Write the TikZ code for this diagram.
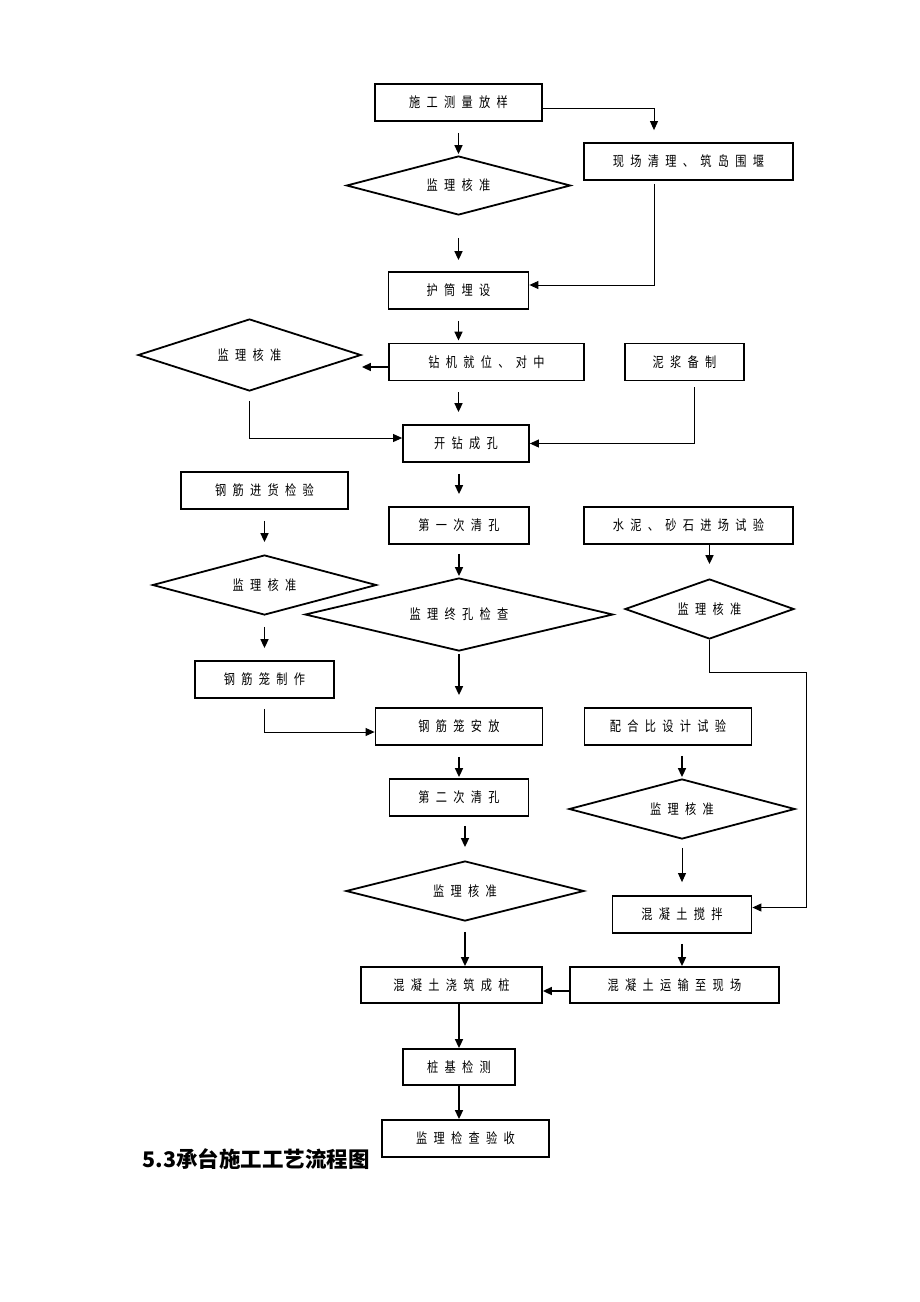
\documentclass[tikz,border=0pt]{standalone}
\usepackage{fontspec}
\newfontfamily\cjk[FakeStretch=0.8,LetterSpace=45]{Noto Sans CJK SC}
\newfontfamily\cjktitle{Noto Sans CJK SC}
\usepackage{tikz}
\usetikzlibrary{shapes,arrows,positioning,calc,arrows.meta}

\begin{document}
\begin{tikzpicture}[x=1pt, y=-1pt, >={Triangle[length=9pt,width=8pt]},
    box/.style={draw, line width=1.8pt, minimum height=37pt, inner sep=0pt, font=\cjk\fontsize{14}{14}\selectfont},
    check/.style={draw, diamond, aspect=3, line width=1.8pt, inner sep=0pt, font=\cjk\fontsize{14}{14}\selectfont},
    flow/.style={->, line width=1.6pt},
    link/.style={->, line width=0.9pt}]
    \useasboundingbox (0,0) rectangle (920,1302);

    \node [box, minimum width=167pt] (survey) at (458.5,102.5) {施工测量放样};
    \node [box, minimum width=209pt] (clear) at (688.5,161.5) {现场清理、筑岛围堰};
    \node [check, minimum width=224pt, minimum height=59pt, below of=survey, node distance=83pt] (chk1) {监理核准};
    \node [box, minimum width=140pt, below of=chk1, node distance=105pt] (casing) {护筒埋设};
    \node [box, minimum width=195pt] (rig) at (486.5,362) {钻机就位、对中};
    \node [check, minimum width=223pt, minimum height=72pt] (chk2) at (249.5,355) {监理核准};
    \node [box, minimum width=119pt, right of=rig, node distance=198pt] (mud) {泥浆备制};
    \node [box, minimum width=126pt] (drill) at (466,443.5) {开钻成孔};
    \node [box, minimum width=167pt] (rebar) at (264.5,490.5) {钢筋进货检验};
    \node [box, minimum width=140pt] (clean1) at (459,525.5) {第一次清孔};
    \node [box, minimum width=209pt, right of=clean1, node distance=229.5pt] (cement) {水泥、砂石进场试验};
    \node [check, minimum width=224pt, minimum height=60pt, below of=rebar, node distance=94.5pt] (chk3) {监理核准};
    \node [check, minimum width=308pt, minimum height=73pt, below of=clean1, node distance=89pt] (final) {监理终孔检查};
    \node [check, minimum width=169pt, minimum height=60pt] (chk4) at (709.5,609) {监理核准};
    \node [box, minimum width=139pt, below of=chk3, node distance=94.5pt] (cage) {钢筋笼制作};
    \node [box, minimum width=167pt, below of=final, node distance=112pt] (place) {钢筋笼安放};
    \node [box, minimum width=167pt, right of=place, node distance=209pt] (ratio) {配合比设计试验};
    \node [box, minimum width=139pt, below of=place, node distance=71pt] (clean2) {第二次清孔};
    \node [check, minimum width=226pt, minimum height=60pt] (chk5) at (682,809) {监理核准};
    \node [check, minimum width=238pt, minimum height=60pt] (chk6) at (465,891) {监理核准};
    \node [box, minimum width=139pt, below of=chk5, node distance=105.5pt] (mix) {混凝土搅拌};
    \node [box, minimum width=181pt, minimum height=36pt] (pour) at (451.5,985) {混凝土浇筑成桩};
    \node [box, minimum width=209pt, minimum height=36pt, right of=pour, node distance=223pt] (transport) {混凝土运输至现场};
    \node [box, minimum width=112pt, minimum height=36pt] (test) at (459,1067) {桩基检测};
    \node [box, minimum width=167pt] (accept) at (465.5,1138.5) {监理检查验收};
    \node [anchor=west, font=\cjktitle\bfseries\fontsize{21.5}{21.5}\selectfont] (title) at (139,1159) {5.3承台施工工艺流程图};

    \draw [link, shorten >=12pt] ([yshift=-5.5pt]survey.east) -| ([xshift=-34.5pt]clear.north);
    \draw [flow, shorten <=11pt, shorten >=1pt] (survey) -- (chk1);
    \draw [flow, shorten <=22pt, shorten >=11pt] (chk1) -- (casing);
    \draw [link, shorten <=3pt] ([xshift=-34.5pt]clear.south) |- ([yshift=5.5pt]casing.east);
    \draw [flow, shorten <=11pt, shorten >=2pt] (casing.south) -- (casing.south |- rig.north);
    \draw [flow] ([yshift=-5pt]rig.west) -- ([yshift=-12pt]chk2.east);
    \draw [flow, shorten <=11pt, shorten >=12pt] (casing.south |- rig.south) -- (casing.south |- drill.north);
    \draw [link, shorten <=9pt] (chk2.south) |- ([yshift=5.5pt]drill.west);
    \draw [link, shorten <=6pt] ([xshift=9.5pt]mud.south) |- (drill.east);
    \draw [flow, shorten <=11pt, shorten >=12pt] (clean1.north |- drill.south) -- (clean1.north);
    \draw [flow, shorten <=11pt, shorten >=12pt] (rebar) -- (chk3);
    \draw [flow, shorten >=14pt] (chk4.north |- cement.south) -- (chk4.north);
    \draw [flow, shorten <=9pt, shorten >=1pt] (clean1) -- (final);
    \draw [flow, shorten <=11pt, shorten >=12pt] (chk3) -- (cage);
    \draw [flow, shorten <=2pt, shorten >=12pt] (final) -- (place);
    \draw [link, shorten <=10pt] (cage.south) |- ([yshift=-5.5pt]place.west);
    \coordinate (bend) at (806,672);
    \draw [link] (chk4.south) |- (bend) |- ([yshift=7pt]mix.east);
    \draw [flow, shorten <=11pt, shorten >=1pt] (place) -- (clean2);
    \draw [flow, shorten <=10pt, shorten >=1pt] (chk5.north |- ratio.south) -- (chk5.north);
    \draw [flow, shorten <=9pt, shorten >=13pt] (chk6.north |- clean2.south) -- (chk6.north);
    \draw [link, shorten <=8pt, shorten >=13pt] (chk5) -- (mix);
    \draw [flow, shorten <=10pt] (chk6.south) -- (chk6.south |- pour.north);
    \draw [flow, shorten <=10pt] (mix.south) -- (mix.south |- transport.north);
    \draw [flow] ([yshift=-6pt]transport.west) -- ([yshift=-6pt]pour.east);
    \draw [flow] (test.north |- pour.south) -- (test.north);
    \draw [flow] (test.south) -- (test.south |- accept.north);
\end{tikzpicture}
\end{document}
